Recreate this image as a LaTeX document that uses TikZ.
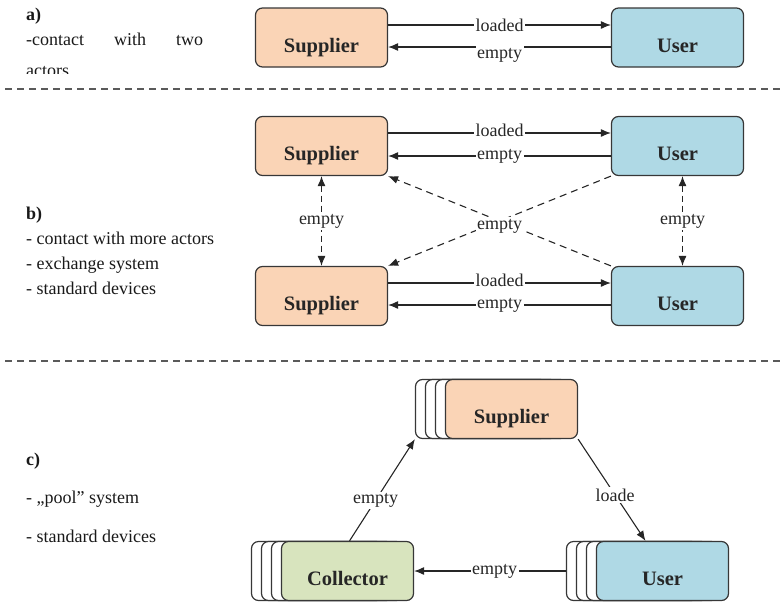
\documentclass[tikz,border=0pt]{standalone}
\usepackage{fontspec}
\setmainfont{LiberationSerif}[Extension=.ttf, UprightFont=*-Regular, BoldFont=*-Bold, ItalicFont=*-Italic, BoldItalicFont=*-BoldItalic]
\usetikzlibrary{arrows.meta,calc}
\definecolor{supfill}{RGB}{250,212,182}
\definecolor{usefill}{RGB}{175,217,229}
\definecolor{colfill}{RGB}{216,228,190}
\definecolor{edgecol}{RGB}{55,55,55}
\definecolor{sepcol}{RGB}{90,90,90}
\begin{document}
\begin{tikzpicture}[x=1pt,y=-1pt,
  box/.style={draw=edgecol, line width=1.2pt, rounded corners=7pt,
    minimum width=132pt, minimum height=59pt, inner sep=0pt,
    text height=29pt, text depth=0pt,
    font=\fontsize{20.5}{24}\selectfont\bfseries, text=black!85},
  sup/.style={box, fill=supfill},
  usr/.style={box, fill=usefill},
  col/.style={box, fill=colfill},
  back/.style={box, fill=white},
  arr/.style={draw=black!85, line width=1.1pt, -{Latex[length=10pt,width=8pt]}},
  darr/.style={draw=black!85, line width=1.1pt, dash pattern=on 6pt off 4pt,
    {Latex[length=10pt,width=8pt]}-{Latex[length=10pt,width=8pt]}},
  diag/.style={draw=black!85, line width=1.1pt, dash pattern=on 7pt off 5pt,
    -{Latex[length=10pt,width=8pt]}},
  lbl/.style={fill=white, inner sep=1.5pt, font=\fontsize{18}{21}\selectfont, text=black!85},
  txt/.style={anchor=base west, inner sep=0pt, font=\fontsize{18}{21}\selectfont, text=black!90},
  sepline/.style={draw=sepcol, line width=1.3pt, dash pattern=on 7pt off 5pt}
]
\useasboundingbox (0,0) rectangle (782,603);

% ---------- a) ----------
\node[txt, font=\fontsize{18}{21}\selectfont\bfseries] (ta) at (26,20) {a)};
\node[txt, text width=177pt] (ta1) at (26,45) {-contact\hfill with\hfill two};
\begin{scope}
  \clip (0,0) rectangle (250,73);
  \node[txt] (ta2) at (26,76) {actors};
\end{scope}

\node[sup] (s0) at (321.5,37.5) {Supplier};
\node[usr] (u0) at (677.5,37.5) {User};
\draw[arr] ($(s0.east)+(0,-12.5)$) -- node[lbl]{loaded} ($(u0.west)+(0,-12.5)$);
\draw[arr] ($(u0.west)+(0,9.5)$) -- node[lbl, yshift=-8pt]{empty} ($(s0.east)+(0,9.5)$);

\draw[sepline] (5,89) -- (780,89);

% ---------- b) ----------
\node[txt, font=\fontsize{18}{21}\selectfont\bfseries] (tb) at (26,219) {b)};
\node[txt] (tb1) at (26,244) {- contact with more actors};
\node[txt] (tb2) at (26,269) {- exchange system};
\node[txt] (tb3) at (26,294) {- standard devices};

\node[sup] (s1) at (321.5,146) {Supplier};
\node[usr] (u1) at (677.5,146) {User};
\node[sup] (s2) at (321.5,296) {Supplier};
\node[usr] (u2) at (677.5,296) {User};

\draw[arr] ($(s1.east)+(0,-13)$) -- node[lbl, yshift=3pt]{loaded} ($(u1.west)+(0,-13)$);
\draw[arr] ($(u1.west)+(0,10)$) -- node[lbl]{empty} ($(s1.east)+(0,10)$);
\draw[arr] ($(s2.east)+(0,-13)$) -- node[lbl, yshift=3pt]{loaded} ($(u2.west)+(0,-13)$);
\draw[arr] ($(u2.west)+(0,9)$) -- node[lbl]{empty} ($(s2.east)+(0,9)$);

\draw[darr] (s1.south) -- node[lbl]{empty} (s2.north);
\draw[darr] ($(u1.south)+(5,0)$) -- node[lbl]{empty} ($(u2.north)+(5,0)$);

\draw[diag] (u2.north west) -- (s1.south east);
\draw[diag] (u1.south west) -- node[lbl, yshift=-5pt]{empty} (s2.north east);

\draw[sepline] (5,361) -- (780,361);

% ---------- c) ----------
\node[txt, font=\fontsize{18}{21}\selectfont\bfseries] (tc) at (26,465) {c)};
\node[txt] (tc1) at (26,503) {- „pool” system};
\node[txt] (tc2) at (26,542) {- standard devices};

\node[back] (sb3) at (481.5,409) {};
\node[back] (sb2) at (491.5,409) {};
\node[back] (sb1) at (501.5,409) {};
\node[sup]  (sf)  at (511.5,409) {Supplier};

\node[back] (cb3) at (317.5,571) {};
\node[back] (cb2) at (327.5,571) {};
\node[back] (cb1) at (337.5,571) {};
\node[col]  (cf)  at (347.5,571) {Collector};

\node[back] (ub3) at (632.5,571) {};
\node[back] (ub2) at (642.5,571) {};
\node[back] (ub1) at (652.5,571) {};
\node[usr]  (uf)  at (662.5,571) {User};

\draw[arr] ($(cf.north)+(2,0)$) -- node[lbl, pos=0.4]{empty} (sb3.south west);
\draw[arr] (sf.south east) -- node[lbl, pos=0.55]{loade} ($(uf.north)+(-17,0)$);
\draw[arr] (ub3.west) -- node[lbl, pos=0.47]{empty} (cf.east);
\end{tikzpicture}
\end{document}
